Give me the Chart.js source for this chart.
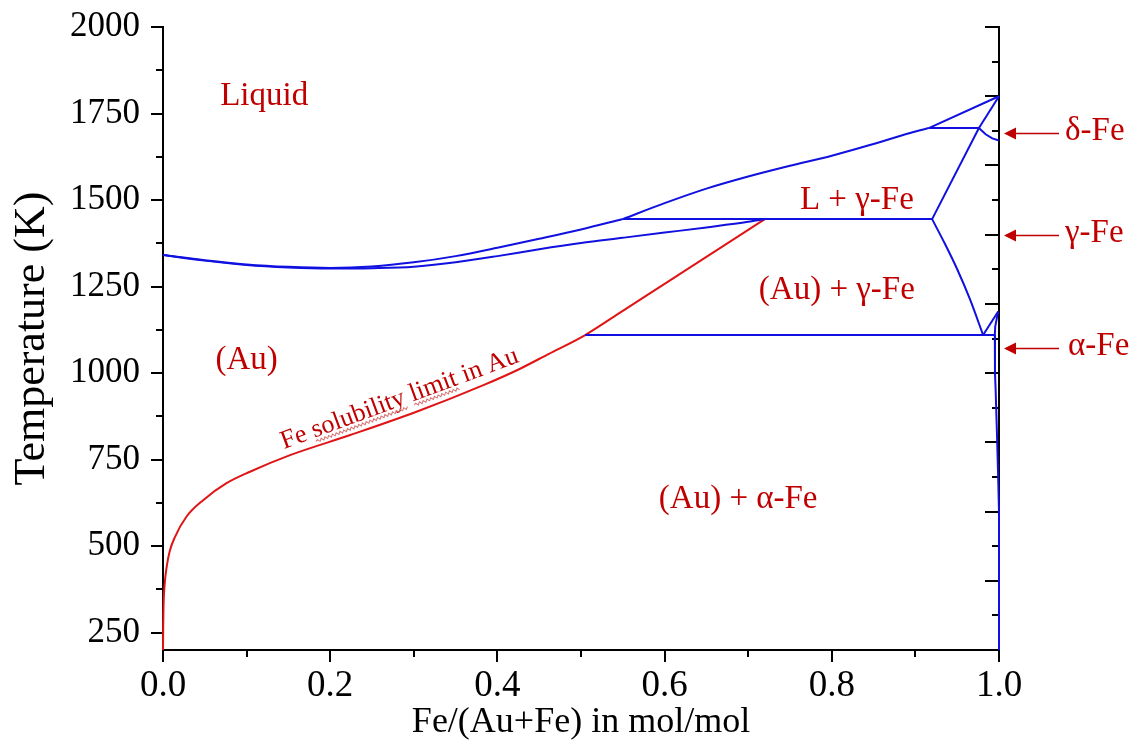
<!DOCTYPE html>
<html><head><meta charset="utf-8">
<script src="https://cdn.jsdelivr.net/npm/chart.js@4.4.1/dist/chart.umd.min.js"></script>
<style>html,body{margin:0;padding:0;background:#fff}canvas{display:block}</style>
</head><body>
<canvas id="c" width="1141" height="747"></canvas>
<script>
// ---------- data (Fe mole fraction, temperature in K) ----------
const liquidusAuX = [0, 0.05, 0.1, 0.15, 0.2, 0.25, 0.3, 0.35, 0.4, 0.45, 0.5, 0.55];
const liquidusAuT = [1341, 1326, 1314, 1307, 1304, 1308, 1320, 1338, 1362, 1388, 1415, 1445];
const liquidusGammaX = [0.55, 0.6, 0.65, 0.7, 0.75, 0.8, 0.85, 0.9, 0.916];
const liquidusGammaT = [1445, 1491, 1533, 1568, 1599, 1628, 1662, 1698, 1708];
const liquidusDeltaX = [0.916, 1.0];
const liquidusDeltaT = [1708, 1800];
const solidusX = [0, 0.05, 0.1, 0.15, 0.2, 0.25, 0.3, 0.35, 0.4, 0.45, 0.5, 0.55, 0.6, 0.65, 0.7, 0.72];
const solidusT = [1341, 1325, 1312, 1305, 1302, 1303, 1307, 1320, 1338, 1358, 1376, 1391, 1406, 1421, 1437, 1445];
const peritecticX = [0.55, 0.92];
const peritecticT = [1445, 1445];
const deltaPeritecticX = [0.916, 0.976];
const deltaPeritecticT = [1708, 1708];
const gammaSolidusX = [0.92, 0.976];
const gammaSolidusT = [1445, 1708];
const deltaSolidusX = [0.976, 1.0];
const deltaSolidusT = [1708, 1800];
const deltaGammaX = [0.976, 0.984, 0.992, 1.0];
const deltaGammaT = [1708, 1690, 1678, 1672];
const gammaBoundaryX = [0.92, 0.935, 0.95, 0.965, 0.981];
const gammaBoundaryT = [1445, 1375, 1300, 1215, 1110];
const eutectoidX = [0.505, 0.995];
const eutectoidT = [1110, 1110];
const gammaAlphaX = [0.981, 0.999];
const gammaAlphaT = [1110, 1178];
const alphaSolvusX = [0.999, 0.9955, 0.995, 0.9952, 0.996, 0.9975, 0.999, 1.0, 1.0];
const alphaSolvusT = [1178, 1135, 1110, 1000, 950, 830, 700, 600, 200];
const feSolubilityX = [0, 0.0002, 0.0006, 0.002, 0.0044, 0.008, 0.0144, 0.028, 0.048, 0.076, 0.104, 0.152, 0.224, 0.304, 0.384, 0.424, 0.461, 0.505, 0.55, 0.6, 0.65, 0.7, 0.72];
const feSolubilityT = [200, 260, 324, 390, 440, 485, 527, 585, 633, 682, 715, 763, 821, 889, 966, 1009, 1055, 1110, 1180, 1258, 1336, 1414, 1445];

// ---------- ticks ----------
const xTicks = [0, 0.2, 0.4, 0.6, 0.8, 1.0];
const xMinorTicks = [0.1, 0.3, 0.5, 0.7, 0.9];
const yTicks = [250, 500, 750, 1000, 1250, 1500, 1750, 2000];
const yMinorTicks = [375, 625, 875, 1125, 1375, 1625, 1875];
const rightTicks = [200, 300, 400, 500, 600, 700, 800, 900, 1000, 1100, 1200, 1300, 1400, 1500, 1600, 1700, 1800, 1900, 2000];

// ---------- text annotations ----------
const phaseLabels = ['Liquid', 'L + γ-Fe', '(Au) + γ-Fe', '(Au)', '(Au) + α-Fe'];
const phaseLabelX = [0.121, 0.830, 0.806, 0.100, 0.688];
const phaseLabelT = [1801, 1500, 1240, 1038, 636];
const curveLabel = ['Fe ', 'solubility', ' ', 'limit', ' in Au'];
const pureFeLabels = ['δ-Fe', 'γ-Fe', 'α-Fe'];
const pureFeT = [1694, 1399, 1073];

const BLUE = '#1010e0', RED = '#e01414', TEXT_RED = '#c00000';
const SERIF = '"Liberation Serif", "Times New Roman", serif';

function pts(xs, ts) { return xs.map((x, i) => ({x: x, y: ts[i]})); }
function line(xs, ts, color, smooth) {
  return {data: pts(xs, ts), showLine: true, borderColor: color, borderWidth: 2,
    pointRadius: 0, fill: false, clip: 6,
    tension: 0, cubicInterpolationMode: smooth ? 'monotone' : 'default'};
}

const datasets = [
  line(liquidusAuX, liquidusAuT, BLUE, true),
  line(liquidusGammaX, liquidusGammaT, BLUE, true),
  line(liquidusDeltaX, liquidusDeltaT, BLUE, false),
  line(solidusX, solidusT, BLUE, true),
  line(peritecticX, peritecticT, BLUE, false),
  line(deltaPeritecticX, deltaPeritecticT, BLUE, false),
  line(gammaSolidusX, gammaSolidusT, BLUE, false),
  line(deltaSolidusX, deltaSolidusT, BLUE, false),
  line(deltaGammaX, deltaGammaT, BLUE, false),
  line(gammaBoundaryX, gammaBoundaryT, BLUE, true),
  line(eutectoidX, eutectoidT, BLUE, false),
  line(gammaAlphaX, gammaAlphaT, BLUE, false),
  line(alphaSolvusX, alphaSolvusT, BLUE, false),
  line(feSolubilityX, feSolubilityT, RED, true)
];

function squiggle(ctx, x0, x1, yy) {
  ctx.beginPath();
  let up = true;
  ctx.moveTo(x0, yy);
  for (let xx = x0 + 2; xx <= x1; xx += 2) { ctx.lineTo(xx, yy + (up ? -1.3 : 1.3)); up = !up; }
  ctx.stroke();
}

const deco = {
  id: 'deco',
  beforeDatasetsDraw(chart) {
    const {ctx, chartArea: a, scales: {x, y}} = chart;
    ctx.save();
    ctx.strokeStyle = '#000';
    ctx.lineWidth = 2;
    ctx.beginPath(); ctx.moveTo(a.right, a.top - 1); ctx.lineTo(a.right, a.bottom); ctx.stroke();
    const h = (x0, x1, yy) => { ctx.beginPath(); ctx.moveTo(x0, yy); ctx.lineTo(x1, yy); ctx.stroke(); };
    const v = (xx, y0, y1) => { ctx.beginPath(); ctx.moveTo(xx, y0); ctx.lineTo(xx, y1); ctx.stroke(); };
    yTicks.forEach(t => h(a.left - 12, a.left, Math.round(y.getPixelForValue(t))));
    yMinorTicks.forEach(t => h(a.left - 7, a.left, Math.round(y.getPixelForValue(t))));
    xTicks.forEach(t => v(Math.round(x.getPixelForValue(t)), a.bottom, a.bottom + 12));
    xMinorTicks.forEach(t => v(Math.round(x.getPixelForValue(t)), a.bottom, a.bottom + 7));
    rightTicks.forEach(t => h(a.right - (t % 200 === 0 ? 14 : 7), a.right, Math.round(y.getPixelForValue(t))));
    ctx.restore();
  },
  afterDatasetsDraw(chart) {
    const {ctx, chartArea: a, scales: {x, y}} = chart;
    ctx.save();
    ctx.fillStyle = TEXT_RED;
    ctx.font = '33px ' + SERIF;
    ctx.textAlign = 'center';
    ctx.textBaseline = 'middle';
    phaseLabels.forEach((s, i) => ctx.fillText(s, x.getPixelForValue(phaseLabelX[i]), y.getPixelForValue(phaseLabelT[i])));
    // curve label (rotated along the solubility curve)
    ctx.save();
    ctx.translate(x.getPixelForValue(0.285), y.getPixelForValue(912));
    ctx.rotate(-20.3 * Math.PI / 180);
    ctx.font = '26px ' + SERIF;
    ctx.textBaseline = 'alphabetic';
    ctx.textAlign = 'left';
    const full = curveLabel.join('');
    let cx = -ctx.measureText(full).width / 2;
    ctx.strokeStyle = '#d87070';
    ctx.lineWidth = 1;
    curveLabel.forEach(part => {
      const w = ctx.measureText(part).width;
      ctx.fillText(part, cx, 2);
      if (part === 'solubility' || part === 'limit') squiggle(ctx, cx, cx + w, 6);
      cx += w;
    });
    ctx.restore();
    // pure Fe arrows
    ctx.strokeStyle = TEXT_RED;
    ctx.lineWidth = 1.5;
    ctx.textAlign = 'left';
    pureFeLabels.forEach((s, i) => {
      const yy = Math.round(y.getPixelForValue(pureFeT[i])) + 0.5;
      const tip = a.right + 5;
      ctx.beginPath(); ctx.moveTo(tip + 10, yy); ctx.lineTo(a.right + 60, yy); ctx.stroke();
      ctx.beginPath(); ctx.moveTo(tip, yy); ctx.lineTo(tip + 12, yy - 6); ctx.lineTo(tip + 12, yy + 6); ctx.closePath(); ctx.fill();
      ctx.font = '33px ' + SERIF;
      ctx.fillText(s, a.right + 66 + (i === 2 ? 3 : 0), yy - 2);
    });
    ctx.restore();
  }
};

new Chart(document.getElementById('c'), {
  type: 'scatter',
  data: {datasets: datasets},
  options: {
    responsive: false,
    animation: false,
    events: [],
    layout: {padding: {top: 27, right: 142, left: 0, bottom: 0}},
    plugins: {legend: {display: false}, tooltip: {enabled: false}},
    scales: {
      x: {
        type: 'linear', min: 0, max: 1,
        afterFit: s => { s.height = 97; },
        afterBuildTicks: s => { s.ticks = xTicks.map(v => ({value: v})); },
        grid: {display: false},
        border: {display: true, color: '#000', width: 2},
        ticks: {color: '#000', padding: 10, maxRotation: 0, autoSkip: false,
          font: {family: SERIF, size: 37, lineHeight: 1}, callback: v => Number(v).toFixed(1)},
        title: {display: true, text: 'Fe/(Au+Fe) in mol/mol', color: '#000',
          font: {family: SERIF, size: 36}, padding: {top: 0, bottom: 3}}
      },
      y: {
        type: 'linear', min: 200, max: 2000,
        afterFit: s => { s.width = 163; },
        afterBuildTicks: s => { s.ticks = yTicks.map(v => ({value: v})); },
        grid: {display: false},
        border: {display: true, color: '#000', width: 2},
        ticks: {color: '#000', padding: 15, autoSkip: false,
          font: {family: SERIF, size: 35, lineHeight: 0.5}, callback: v => String(v)},
        title: {display: true, text: 'Temperature (K)', color: '#000',
          font: {family: SERIF, size: 44}, padding: {top: 6, bottom: 0}}
      }
    }
  },
  plugins: [deco]
});
</script>
</body></html>
